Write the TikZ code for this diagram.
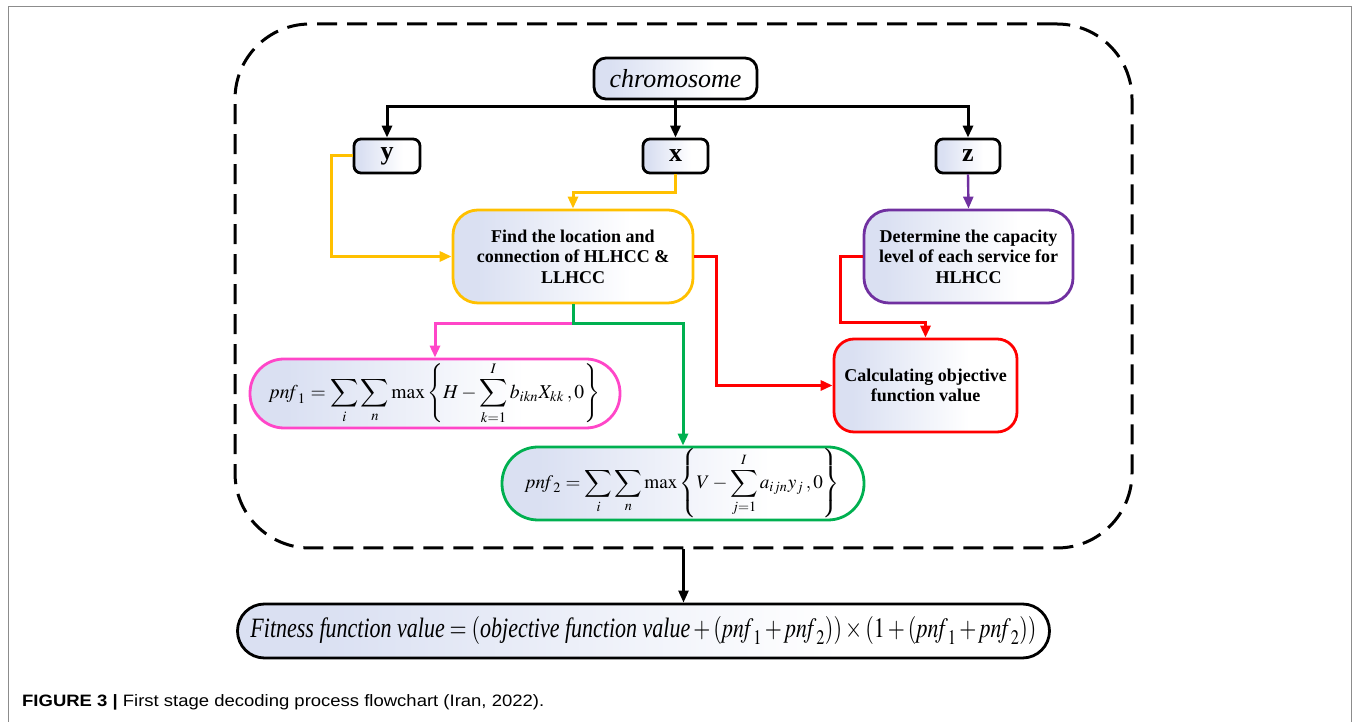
\documentclass[tikz,border=0pt]{standalone}
\usepackage{mathptmx}
\DeclareSymbolFont{cmlarge}{OMX}{cmex}{m}{n}
\DeclareMathSymbol{\sum}{\mathop}{cmlarge}{"50}
\usepackage[no-math]{fontspec}
\setmainfont{Liberation Serif}
\newfontfamily\capfont{Liberation Sans}
\usepackage{graphicx}
\usetikzlibrary{arrows.meta}
\definecolor{cyel}{RGB}{255,192,0}
\definecolor{cpink}{RGB}{255,70,200}
\definecolor{cgreen}{RGB}{0,176,80}
\definecolor{cred}{RGB}{255,0,0}
\definecolor{cpurple}{RGB}{112,48,160}
\definecolor{cfill}{RGB}{218,224,242}
\definecolor{cframe}{RGB}{140,140,140}
\pgfdeclarehorizontalshading{boxshade}{100bp}{color(0bp)=(cfill); color(30bp)=(cfill); color(62bp)=(white); color(100bp)=(white)}
\tikzset{
  box/.style={draw, line width=2.8pt, rounded corners=#1, shade, shading=boxshade, inner sep=0pt, align=center, text=black},
  box/.default=8pt,
  bodytext/.style={font=\fontsize{18}{20.5}\selectfont\bfseries},
  lbltext/.style={font=\fontsize{26}{26}\selectfont\bfseries},
  conn/.style={line width=#1, -{Triangle[length=12pt,width=10pt]}},
  conn/.default=3pt,
}
\begin{document}
\begin{tikzpicture}[x=1pt,y=1pt]
\useasboundingbox (0,0) rectangle (1359,722);
\draw[cframe, line width=1pt] (8,0) -- (8,715) -- (1351,715) -- (1351,0);

% dashed frame
\node[draw, line width=3pt, dash pattern=on 20pt off 10pt, rounded corners=75pt,
      minimum width=897pt, minimum height=524pt, inner sep=0pt] (frame) at (683.5,436) {};

% top nodes
\node[box=12pt, minimum width=163pt, minimum height=41pt, font=\fontsize{26}{26}\selectfont\itshape] (chrom) at (675.5,643.5) {chromosome};
\node[box=7pt, minimum width=66pt, minimum height=34pt, lbltext] (ybox) at (387,566) {y};
\node[box=7pt, minimum width=65pt, minimum height=34pt, lbltext] (xbox) at (675.5,566) {x};
\node[box=7pt, minimum width=64pt, minimum height=34pt, lbltext] (zbox) at (968,566) {z};

% process nodes
\node[box=25pt, draw=cyel, minimum width=240pt, minimum height=93pt, bodytext] (find) at (573,465.5)
  {Find the location and\\connection of HLHCC \&\\LLHCC};
\node[box=25pt, draw=cpurple, minimum width=209pt, minimum height=93pt, bodytext] (det) at (968.5,465.5)
  {Determine the capacity\\level of each service for\\HLHCC};
\node[box=20pt, draw=cred, minimum width=183pt, minimum height=93pt, bodytext] (calc) at (925.5,336.5)
  {Calculating objective\\function value};

% penalty formulas
\node[box=34pt, draw=cpink, minimum width=370pt, minimum height=69pt] (pnf1) at (435,328.5)
  {\resizebox{330pt}{!}{$\displaystyle \mathit{pnf}_1=\sum_{i}\sum_{n}\max\left\{H-\sum_{k=1}^{I}b_{ikn}X_{kk}\,,0\right\}$}};
\node[box=36pt, draw=cgreen, minimum width=362pt, minimum height=73pt] (pnf2) at (683,238.5)
  {\resizebox{314pt}{!}{$\displaystyle \mathit{pnf}_2=\sum_{i}\sum_{n}\max\left\{V-\sum_{j=1}^{I}a_{ijn}y_{j}\,,0\right\}$}};

% fitness
\node[box=27pt, minimum width=812pt, minimum height=54pt] (fit) at (643.5,91)
  {\resizebox{786pt}{\height}{\fontsize{28}{28}\selectfont $\textit{Fitness function value}=(\textit{objective function value}+(\mathit{pnf}_1+\mathit{pnf}_2))\times(1+(\mathit{pnf}_1+\mathit{pnf}_2))$}};

% caption
\node[anchor=base west, inner sep=0pt] (cap) at (22,15)
  {\resizebox{522pt}{\height}{\capfont\fontsize{16.5}{18}\selectfont\textbf{FIGURE 3 |} First stage decoding process flowchart (Iran, 2022).}};

% helper coordinates
\coordinate (bus) at (675.5,615);
\coordinate (yl) at (331,566);
\coordinate (xm) at (675.5,529);
\coordinate (r1) at (716,465.5);
\coordinate (r2) at (840,465.5);
\coordinate (r3) at (840,399);
\coordinate (fb) at (573,398);

% black connectors
\draw[conn=3pt] (chrom.south) -- (xbox.north);
\draw[conn=3pt] (bus) -| (ybox.north);
\draw[conn=3pt] (bus) -| (zbox.north);

% yellow
\draw[conn, cyel] (ybox.west) -- (yl) |- (find.west);
\draw[conn, cyel] (xbox.south) -- (xm) -| (find.north);

% purple
\draw[conn=2.4pt, cpurple] (zbox.south) -- (det.north);

% red
\draw[conn, cred] (find.east) -- (r1) |- (calc.west);
\draw[conn, cred] (det.west) -- (r2) -- (r3) -| (calc.north);

% pink & green
\draw[conn, cpink] (find.south) -- (fb) -| (pnf1.north);
\draw[conn, cgreen] (find.south) -- (fb) -| (pnf2.north);

% bottom arrow
\draw[conn=2.4pt] (frame.south) -- (frame.south |- fit.north);
\end{tikzpicture}
\end{document}
